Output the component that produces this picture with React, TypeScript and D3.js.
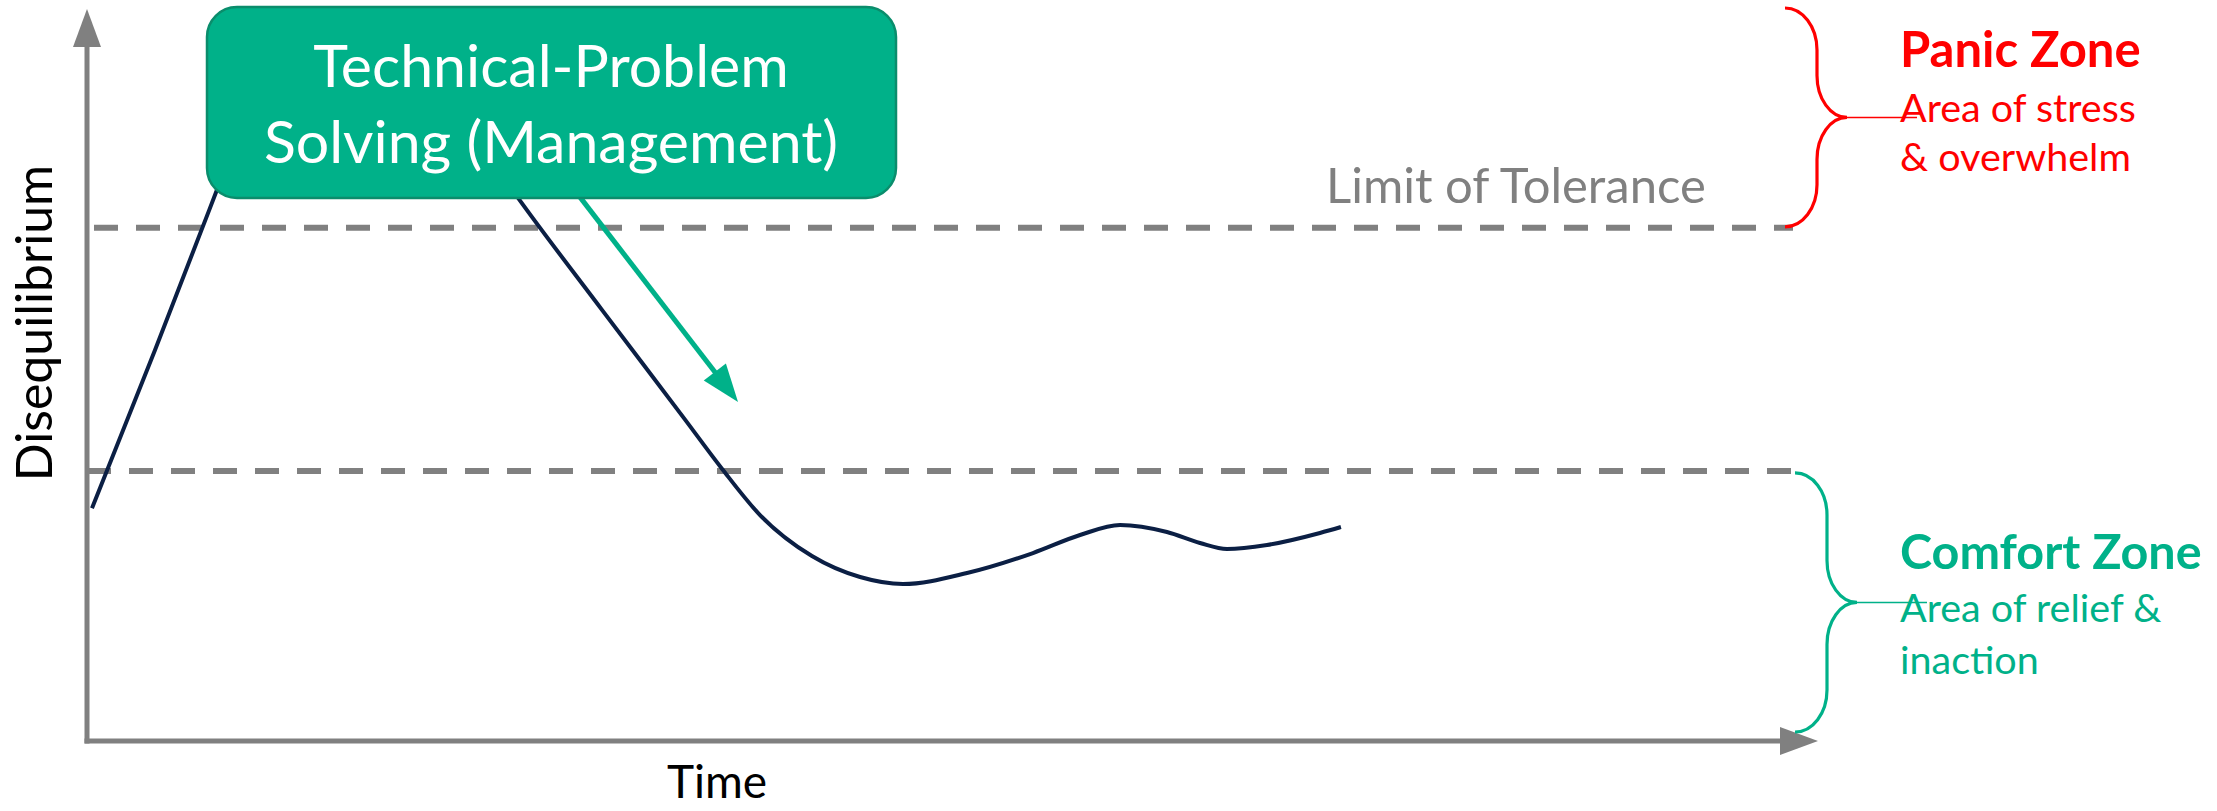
import React from "react";
import * as d3 from "d3";

const W = 2217;
const H = 811;

// Conceptual axes: time (horizontal) and disequilibrium (vertical), both 0–100
const timeExtent = [0, 100];
const levelExtent = [0, 100];

// Zone thresholds on the disequilibrium axis
const comfortLevel = 36.9;
const toleranceLevel = 70.1;

// Disequilibrium over time
const curveTime = [0.29, 3.93, 7.51, 8.84, 11.73, 19.24, 22.13, 24.9, 29.75, 34.55, 36.68, 38.88, 41.88, 44.66, 47.14, 50.84, 54.65, 57.37, 59.68, 62.39, 64.3, 65.86, 68.17, 71.23, 72.44];
const curveLevel = [31.8, 53.4, 75.3, 83.5, 89.6, 89.6, 83.5, 74.2, 58.9, 43.9, 37.2, 30.87, 25.27, 22.4, 21.45, 22.95, 25.68, 28.14, 29.51, 28.55, 27.05, 26.23, 26.78, 28.42, 29.23];

// Direction-of-management arrow (start, tip)
const arrowTime = [28.48, 37.61];
const arrowLevel = [74.3, 46.3];

const boxLines = ["Technical-Problem", "Solving (Management)"];
const panicTitle = "Panic Zone";
const panicLines = ["Area of stress", "& overwhelm"];
const comfortTitle = "Comfort Zone";
const comfortLines = ["Area of relief &", "inaction"];
const toleranceLabel = "Limit of Tolerance";
const xLabel = "Time";
const yLabel = "Disequilibrium";

const GREEN = "#00b189";
const GREEN_DARK = "#0a8d6c";
const RED = "#ff0000";
const GRAY = "#808080";
const NAVY = "#0b1f44";
const FONT = "Lato, 'Open Sans', sans-serif";

const x = d3.scaleLinear().domain(timeExtent).range([87, 1818]);
const y = d3.scaleLinear().domain(levelExtent).range([741, 9]);

function bracePath(x0: number, yTop: number, yBot: number, depth = 32, tip = 30, ry = 42) {
  const x1 = x0 + depth;
  const x2 = x1 + tip;
  const ym = (yTop + yBot) / 2;
  return `M${x0},${yTop} A${depth},${ry} 0 0 1 ${x1},${yTop + ry} L${x1},${ym - ry} A${tip},${ry} 0 0 0 ${x2},${ym} A${tip},${ry} 0 0 0 ${x1},${ym + ry} L${x1},${yBot - ry} A${depth},${ry} 0 0 1 ${x0},${yBot}`;
}

function Brace({ x0, yTop, yBot, color }: { x0: number; yTop: number; yBot: number; color: string }) {
  const ym = (yTop + yBot) / 2;
  const x2 = x0 + 62;
  return (
    <g>
      <path d={bracePath(x0, yTop, yBot)} fill="none" stroke={color} strokeWidth={3.2} />
      <line x1={x2} y1={ym} x2={x2 + 70} y2={ym} stroke={color} strokeWidth={1.5} />
    </g>
  );
}

export default function App() {
  const pts: [number, number][] = curveTime.map((t, i) => [x(t), y(curveLevel[i])]);
  const linePath = d3.line().curve(d3.curveMonotoneX)(pts) || "";

  // arrow geometry
  const ax0 = x(arrowTime[0]);
  const ay0 = y(arrowLevel[0]);
  const ax1 = x(arrowTime[1]);
  const ay1 = y(arrowLevel[1]);
  const ang = Math.atan2(ay1 - ay0, ax1 - ax0);
  const headLen = 38;
  const headHalf = 14;
  const bx = ax1 - headLen * Math.cos(ang);
  const by = ay1 - headLen * Math.sin(ang);
  const px = -Math.sin(ang) * headHalf;
  const py = Math.cos(ang) * headHalf;

  const x0 = x(0);
  const y0 = y(0);
  const yTop = y(levelExtent[1]);
  const xEnd = x(timeExtent[1]);

  const box = { left: 207, top: 7, right: 896, bottom: 198, r: 30 };
  const boxCx = 551;

  return (
    <svg
      width={W}
      height={H}
      viewBox={`0 0 ${W} ${H}`}
      style={{ position: "absolute", left: 0, top: 0, display: "block", background: "#fff" }}
    >
      {/* threshold lines */}
      <line x1={x0} x2={1793} y1={y(toleranceLevel)} y2={y(toleranceLevel)} stroke={GRAY} strokeWidth={6} strokeDasharray="24 18" strokeDashoffset={-7} />
      <line x1={x0} x2={1793} y1={y(comfortLevel)} y2={y(comfortLevel)} stroke={GRAY} strokeWidth={6} strokeDasharray="24 18" />

      {/* axes */}
      <line x1={x0} y1={y0 + 2.5} x2={x0} y2={yTop + 36} stroke={GRAY} strokeWidth={5} />
      <polygon points={`${x0},${yTop} ${x0 - 14},${yTop + 38} ${x0 + 14},${yTop + 38}`} fill={GRAY} />
      <line x1={x0 - 2.5} y1={y0} x2={xEnd - 36} y2={y0} stroke={GRAY} strokeWidth={5} />
      <polygon points={`${xEnd},${y0} ${xEnd - 38},${y0 - 14} ${xEnd - 38},${y0 + 14}`} fill={GRAY} />

      {/* disequilibrium curve */}
      <path d={linePath} fill="none" stroke={NAVY} strokeWidth={4} strokeLinejoin="round" />

      {/* management arrow */}
      <line x1={ax0} y1={ay0} x2={bx + 2 * Math.cos(ang)} y2={by + 2 * Math.sin(ang)} stroke={GREEN} strokeWidth={5} />
      <polygon points={`${ax1},${ay1} ${bx + px},${by + py} ${bx - px},${by - py}`} fill={GREEN} />

      {/* callout box */}
      <rect
        x={box.left}
        y={box.top}
        width={box.right - box.left}
        height={box.bottom - box.top}
        rx={box.r}
        ry={box.r}
        fill={GREEN}
        stroke={GREEN_DARK}
        strokeWidth={2.5}
      />
      {boxLines.map((s, i) => (
        <text key={s} x={boxCx} y={87 + i * 76} textAnchor="middle" fill="#fff" fontFamily={FONT} fontSize={59}>
          {s}
        </text>
      ))}

      {/* tolerance label */}
      <text x={1326} y={203} fill={GRAY} fontFamily={FONT} fontSize={49}>
        {toleranceLabel}
      </text>

      {/* axis titles */}
      <text x={717} y={798} textAnchor="middle" fill="#000" fontFamily={FONT} fontSize={46}>
        {xLabel}
      </text>
      <text transform={`translate(52,323) rotate(-90)`} textAnchor="middle" fill="#000" fontFamily={FONT} fontSize={50}>
        {yLabel}
      </text>

      {/* zone braces */}
      <Brace x0={1785} yTop={yTop - 1} yBot={y(toleranceLevel) - 1} color={RED} />
      <Brace x0={1795} yTop={y(comfortLevel) + 2} yBot={y0 - 9} color={GREEN} />

      {/* zone labels */}
      <text x={1900} y={67} fill={RED} fontFamily={FONT} fontWeight={700} fontSize={49}>
        {panicTitle}
      </text>
      {panicLines.map((s, i) => (
        <text key={s} x={1900} y={122 + i * 49} fill={RED} fontFamily={FONT} fontSize={39.5}>
          {s}
        </text>
      ))}
      <text x={1900} y={569} fill={GREEN} fontFamily={FONT} fontWeight={700} fontSize={48.5}>
        {comfortTitle}
      </text>
      {comfortLines.map((s, i) => (
        <text key={s} x={1900} y={622 + i * 52} fill={GREEN} fontFamily={FONT} fontSize={39.5}>
          {s}
        </text>
      ))}
    </svg>
  );
}
